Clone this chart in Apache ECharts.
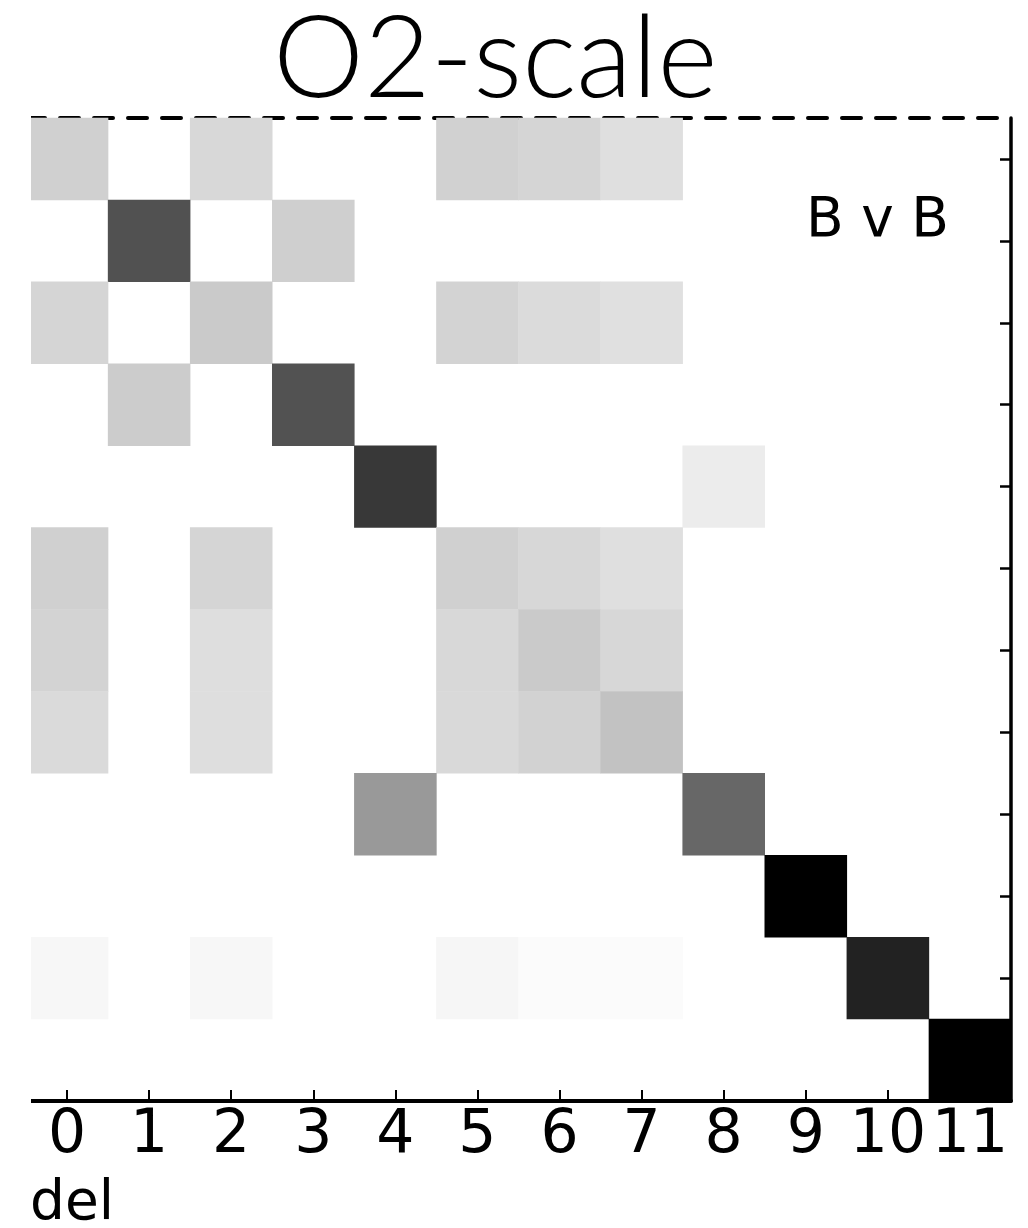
<!DOCTYPE html>
<html>
<head>
<meta charset="utf-8">
<script src="https://cdn.jsdelivr.net/npm/echarts@6/dist/echarts.min.js"></script>
<style>html,body{margin:0;padding:0;background:#fff;}#c{width:1028px;height:1228px;}</style>
</head>
<body>
<div id="c"></div>
<script>
const titleText = 'O2-scale';
const panelLabel = 'B v B';
const xName = 'del';
const colLabels = ['0','1','2','3','4','5','6','7','8','9','10','11'];
const rowLabels = ['0','1','2','3','4','5','6','7','8','9','10','11'];
// matrix values (0 = white, 1 = black), rows top to bottom
const row0  = [0.184, 0, 0.153, 0, 0, 0.180, 0.165, 0.125, 0, 0, 0, 0];
const row1  = [0, 0.682, 0, 0.188, 0, 0, 0, 0, 0, 0, 0, 0];
const row2  = [0.165, 0, 0.208, 0, 0, 0.173, 0.141, 0.122, 0, 0, 0, 0];
const row3  = [0, 0.200, 0, 0.678, 0, 0, 0, 0, 0, 0, 0, 0];
const row4  = [0, 0, 0, 0, 0.780, 0, 0, 0, 0.075, 0, 0, 0];
const row5  = [0.184, 0, 0.165, 0, 0, 0.184, 0.157, 0.125, 0, 0, 0, 0];
const row6  = [0.173, 0, 0.129, 0, 0, 0.153, 0.208, 0.157, 0, 0, 0, 0];
const row7  = [0.145, 0, 0.129, 0, 0, 0.149, 0.176, 0.239, 0, 0, 0, 0];
const row8  = [0, 0, 0, 0, 0.400, 0, 0, 0, 0.596, 0, 0, 0];
const row9  = [0, 0, 0, 0, 0, 0, 0, 0, 0, 1.000, 0, 0];
const row10 = [0.031, 0, 0.031, 0, 0, 0.035, 0.016, 0.016, 0, 0, 0.867, 0];
const row11 = [0, 0, 0, 0, 0, 0, 0, 0, 0, 0, 0, 1.000];
const matrix = [row0,row1,row2,row3,row4,row5,row6,row7,row8,row9,row10,row11];

// zero cells are white (same as the background), so only non-zero cells are drawn
const data = [];
matrix.forEach((row, r) => row.forEach((v, c) => { if (v > 0) data.push([c, r, v]); }));

const chart = echarts.init(document.getElementById('c'), null, {renderer: 'canvas'});
chart.setOption({
  backgroundColor: '#ffffff',
  animation: false,
  title: {
    text: titleText,
    left: 268,
    top: -3,
    textStyle: {fontFamily: 'Lato', fontWeight: 300, fontSize: 115, color: '#000'}
  },
  grid: {left: 26, right: 17, top: 118, bottom: 127, containLabel: false},
  xAxis: [{
    type: 'category',
    data: colLabels,
    position: 'bottom',
    axisLine: {show: true, lineStyle: {color: '#000', width: 4}},
    axisTick: {show: true, inside: true, alignWithLabel: true, interval: 0, length: 11, lineStyle: {color: '#000', width: 2}},
    axisLabel: {color: '#000', fontFamily: 'DejaVu Sans', fontSize: 60, margin: 5, interval: 0},
    splitLine: {show: false}
  }, {
    type: 'category',
    data: colLabels,
    position: 'top',
    axisLine: {show: true, lineStyle: {color: '#000', width: 4, type: [19, 15]}},
    axisTick: {show: false},
    axisLabel: {show: false},
    splitLine: {show: false}
  }],
  yAxis: {
    type: 'category',
    data: rowLabels,
    inverse: true,
    position: 'right',
    axisLine: {show: true, lineStyle: {color: '#000', width: 3.5}},
    axisTick: {show: true, inside: true, alignWithLabel: true, interval: 0, length: 11, lineStyle: {color: '#000', width: 2.5}},
    axisLabel: {show: false},
    splitLine: {show: false}
  },
  visualMap: {
    show: false,
    min: 0,
    max: 1,
    dimension: 2,
    inRange: {color: ['#ffffff', '#000000']}
  },
  series: [{
    type: 'heatmap',
    xAxisIndex: 0,
    data: data,
    itemStyle: {borderWidth: 0},
    emphasis: {disabled: true}
  }],
  graphic: [
    // the reference figure is cropped a few pixels into the left edge of the plot
    {type: 'rect', z: 90, left: 0, top: 105, shape: {width: 31, height: 1005}, style: {fill: '#ffffff'}},
    {type: 'text', z: 100, left: 806, top: 194, style: {text: panelLabel, font: '55px "DejaVu Sans"', fill: '#000'}},
    {type: 'text', z: 100, left: 30, top: 1177, style: {text: xName, font: '55px "DejaVu Sans"', fill: '#000'}}
  ]
});
</script>
</body>
</html>
